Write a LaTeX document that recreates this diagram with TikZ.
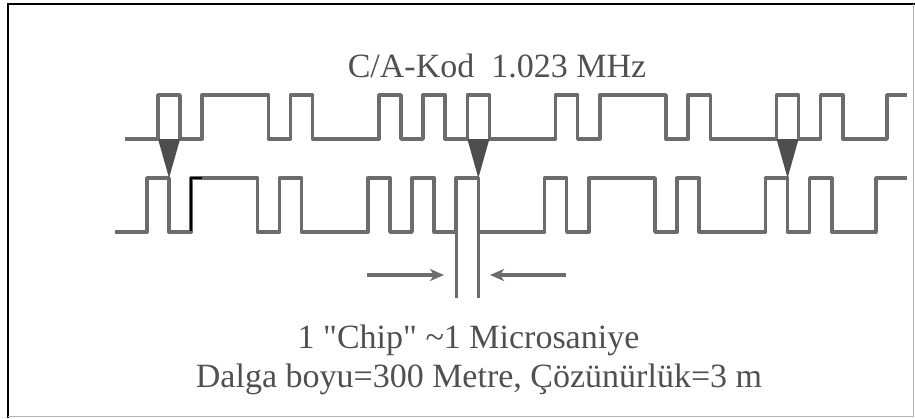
\documentclass[tikz,border=0pt]{standalone}
\usepackage{fontspec}
\newfontfamily\refserif{Liberation Serif}
\usetikzlibrary{arrows.meta}
\definecolor{wavecol}{RGB}{108,108,108}
\definecolor{txtcol}{RGB}{80,80,80}
\definecolor{tricol}{RGB}{78,78,78}
\def\chipw{22.09}
% #1 offset of chip 0, #2 low y, #3 high y, #4 start x, #5 end x
\newcommand\chipwave[5]{%
\draw[wave] (#4,#2) -- (#1,#2)
 |- ({#1+1*\chipw},#3) |- ({#1+2*\chipw},#2) |- ({#1+5*\chipw},#3)
 |- ({#1+6*\chipw},#2) |- ({#1+7*\chipw},#3) |- ({#1+10*\chipw},#2)
 |- ({#1+11*\chipw},#3) |- ({#1+12*\chipw},#2) |- ({#1+13*\chipw},#3)
 |- ({#1+14*\chipw},#2) |- ({#1+15*\chipw},#3) |- ({#1+18*\chipw},#2)
 |- ({#1+19*\chipw},#3) |- ({#1+20*\chipw},#2) |- ({#1+23*\chipw},#3)
 |- ({#1+24*\chipw},#2) |- ({#1+25*\chipw},#3) |- ({#1+28*\chipw},#2)
 |- ({#1+29*\chipw},#3) |- ({#1+30*\chipw},#2) |- ({#1+31*\chipw},#3)
 |- ({#1+33*\chipw},#2) |- (#5,#3);}
\tikzset{
  wave/.style={draw=wavecol, line width=3.5pt, line join=round},
  marker/.style={fill=tricol, draw=none},
  label/.style={text=txtcol, font=\refserif\fontsize{34}{40}\selectfont, anchor=base, inner sep=0pt},
  chiparrow/.style={draw=wavecol, line width=3.2pt, -{Stealth[length=14pt,width=12pt,inset=4pt]}},
}
\begin{document}
\begin{tikzpicture}[x=1pt,y=-1pt]
\useasboundingbox (0,0) rectangle (915,418);
% frame
\draw[black, line width=1.8pt] (8,418) -- (8,4) -- (915,4);
\draw[gray!60, line width=1pt] (8,416.5) -- (913,416.5) -- (913,4);
% title
\node[label] (title) at (497,77) {C/A-Kod\ \ 1.023 MHz};
% waveforms
\chipwave{158}{139}{95}{125}{907}
\chipwave{146.95}{232}{178}{115}{907}
% black highlighted edge
\draw[black, line width=2.4pt, line join=miter] (191.2,231) |- (202,178);
% correlation markers
\fill[marker] (158,139) -- (180.1,139) -- (169.05,178) -- cycle;
\fill[marker] (467.3,139) -- (489.4,139) -- (478.35,178) -- cycle;
\fill[marker] (776.5,139) -- (798.6,139) -- (787.55,178) -- cycle;
% chip width
\coordinate (ca) at (456.3,178);
\coordinate (cb) at (478.4,178);
\coordinate (ca2) at (456.3,298);
\coordinate (cb2) at (478.4,298);
\draw[wave] (ca) -- (ca2);
\draw[wave] (cb) -- (cb2);
\coordinate (la) at (367,275);
\coordinate (lb) at (444,275);
\coordinate (ra) at (566,275);
\coordinate (rb) at (490,275);
\draw[chiparrow] (la) -- (lb);
\draw[chiparrow] (ra) -- (rb);
% texts
\node[label] (chip) at (468.5,348) {1 "Chip" \textasciitilde1 Microsaniye};
\node[label] (wave) at (479,387) {Dalga boyu=300 Metre, Çözünürlük=3 m};
\end{tikzpicture}
\end{document}
